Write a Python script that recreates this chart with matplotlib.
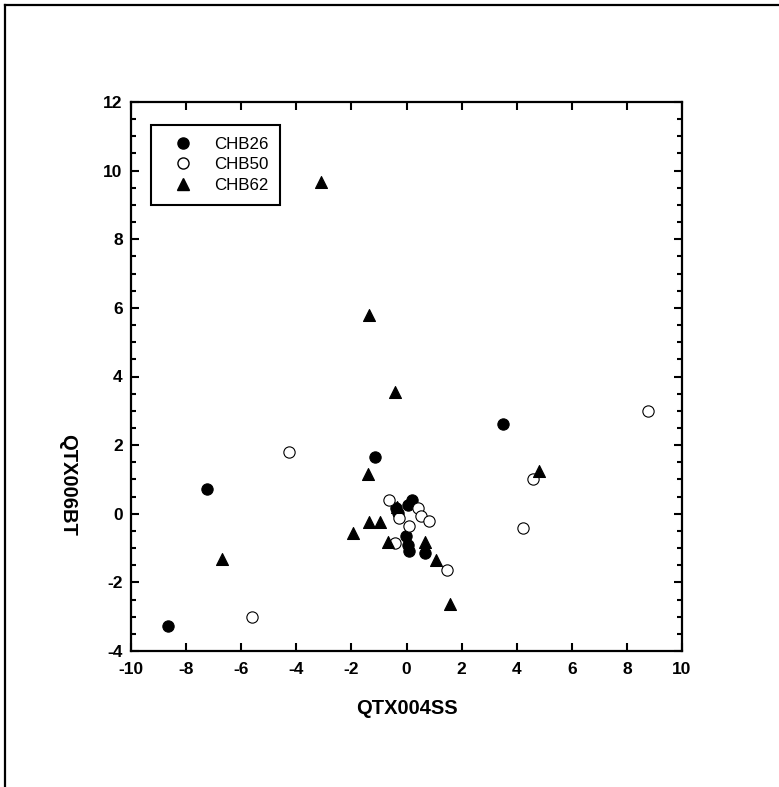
import numpy as np
import matplotlib
matplotlib.use('Agg')
import matplotlib.pyplot as plt
from matplotlib.lines import Line2D
from matplotlib.ticker import MultipleLocator

plt.rcParams['font.family'] = ['Liberation Sans', 'DejaVu Sans']
plt.rcParams['axes.unicode_minus'] = False

# sample scores, one pair (QTX004SS, QTX006BT) per individual
chb26_x = [-7.24, -8.66, -1.14, 3.50, -0.38, 0.19, 0.07, -0.02, 0.07, 0.09, 0.67, -0.30]
chb26_y = [0.73, -3.27, 1.66, 2.62, 0.17, 0.41, 0.26, -0.66, -0.90, -1.10, -1.13, 0.03]

chb50_x = [-0.62, -0.26, 0.10, 0.43, 0.52, 0.83, -0.42, 1.48, -4.27, -5.61, 4.23, 4.60, 8.77]
chb50_y = [0.41, -0.13, -0.35, 0.17, -0.08, -0.22, -0.85, -1.63, 1.81, -3.00, -0.41, 1.00, 3.00]

chb62_x = [-1.95, -1.35, -0.96, -0.66, 0.67, 1.07, -3.10, -1.36, -0.42, -1.40, 4.81, -6.70, 1.58, -0.35]
chb62_y = [-0.56, -0.25, -0.25, -0.81, -0.81, -1.34, 9.68, 5.80, 3.56, 1.17, 1.25, -1.31, -2.62, 0.20]

fig = plt.figure(figsize=(7.79, 7.87), dpi=100)
ax = fig.add_axes([131 / 779, 1 - 651 / 787, 551 / 779, 549 / 787])

ax.scatter(chb26_x, chb26_y, s=66, marker='o', facecolor='black', edgecolor='black', linewidth=0.8, zorder=3)
ax.scatter(chb50_x, chb50_y, s=66, marker='o', facecolor='white', edgecolor='black', linewidth=0.8, zorder=3)
ax.scatter(chb62_x, chb62_y, s=74, marker='^', facecolor='black', edgecolor='black', linewidth=0.8, zorder=3)

ax.set_xlim(-10, 10)
ax.set_ylim(-4, 12)
ax.xaxis.set_major_locator(MultipleLocator(2))
ax.yaxis.set_major_locator(MultipleLocator(2))
ax.yaxis.set_minor_locator(MultipleLocator(0.5))
ax.tick_params(which='both', direction='in', top=True, right=True, width=1.5)
ax.tick_params(which='major', length=6, labelsize=12.5, pad=6)
ax.tick_params(axis='x', which='major', pad=8)
ax.tick_params(which='minor', length=3.5)
for lab in ax.get_xticklabels() + ax.get_yticklabels():
    lab.set_fontweight('bold')
for sp in ax.spines.values():
    sp.set_linewidth(1.6)

fig.text(407 / 779, 1 - 709 / 787, 'QTX004SS', ha='center', va='center', fontsize=14.5, fontweight='bold')
fig.text(68 / 779, 1 - 485 / 787, 'QTX006BT', ha='center', va='center', rotation=270,
         fontsize=14.5, fontweight='bold')

handles = [
    Line2D([], [], ls='none', marker='o', ms=8, mfc='black', mec='black'),
    Line2D([], [], ls='none', marker='o', ms=8, mfc='white', mec='black'),
    Line2D([], [], ls='none', marker='^', ms=8.5, mfc='black', mec='black'),
]
leg = ax.legend(handles, ['CHB26', 'CHB50', 'CHB62'], loc='upper left',
                bbox_to_anchor=(20 / 551, 1 - 23 / 549), fontsize=12.2,
                fancybox=False, framealpha=1, edgecolor='black',
                handletextpad=0.6, labelspacing=0.32, borderpad=0.7,
                borderaxespad=0, handlelength=2.4)
leg.get_frame().set_linewidth(1.5)

# page border on top and left
fig.add_artist(Line2D([5 / 779, 1], [1 - 5 / 787, 1 - 5 / 787], color='black', lw=1.6))
fig.add_artist(Line2D([5 / 779, 5 / 779], [0, 1 - 5 / 787], color='black', lw=1.6))

fig.savefig('out.png', dpi=100)
